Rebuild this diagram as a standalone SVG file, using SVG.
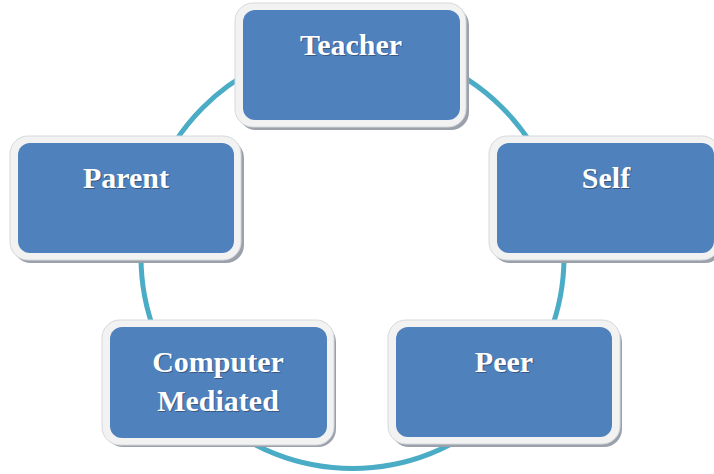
<svg xmlns="http://www.w3.org/2000/svg" width="714" height="474" viewBox="0 0 714 474">
<defs>
<style>
.frame{fill:#f2f2f2;stroke:#d6d8dc;stroke-width:1}
.shadow{fill:#9aa1ab}
.box{fill:#4f81bd}
.lbl{font-family:"Liberation Serif","Times New Roman",serif;font-weight:bold;font-size:30px;fill:#ffffff;text-anchor:middle}
.lblsh{font-family:"Liberation Serif","Times New Roman",serif;font-weight:bold;font-size:30px;fill:#2a3f5c;text-anchor:middle;opacity:0.6}
.ring{fill:none;stroke:#4bacc6;stroke-width:5}
</style>
</defs>
<rect width="714" height="474" fill="#ffffff"/>
<g id="connectors">
<circle class="ring" cx="352.5" cy="257" r="211.5"/>
</g>
<g id="teacher">
<rect class="shadow" x="238" y="7" width="231" height="123" rx="18"/>
<rect class="frame" x="235" y="3" width="231" height="124" rx="18"/>
<rect class="box" x="243" y="10" width="217" height="110" rx="12"/>
<text class="lblsh" x="352" y="56">Teacher</text>
<text class="lbl" x="351" y="55">Teacher</text>
</g>
<g id="self">
<rect class="shadow" x="492" y="140" width="231" height="123" rx="18"/>
<rect class="frame" x="489" y="136" width="231" height="124" rx="18"/>
<rect class="box" x="497" y="143" width="217" height="110" rx="12"/>
<text class="lblsh" x="607" y="189">Self</text>
<text class="lbl" x="606" y="188">Self</text>
</g>
<g id="parent">
<rect class="shadow" x="13" y="140" width="231" height="123" rx="18"/>
<rect class="frame" x="10" y="136" width="231" height="124" rx="18"/>
<rect class="box" x="18" y="143" width="216" height="110" rx="12"/>
<text class="lblsh" x="127" y="189">Parent</text>
<text class="lbl" x="126" y="188">Parent</text>
</g>
<g id="computer-mediated">
<rect class="shadow" x="105" y="324" width="231" height="123" rx="18"/>
<rect class="frame" x="102" y="320" width="232" height="125" rx="18"/>
<rect class="box" x="110" y="327" width="217" height="111" rx="12"/>
<text class="lblsh" x="219" y="373">Computer</text>
<text class="lbl" x="218" y="372">Computer</text>
<text class="lblsh" x="219" y="412">Mediated</text>
<text class="lbl" x="218" y="411">Mediated</text>
</g>
<g id="peer">
<rect class="shadow" x="391" y="324" width="231" height="123" rx="18"/>
<rect class="frame" x="388" y="320" width="232" height="124" rx="18"/>
<rect class="box" x="396" y="327" width="216" height="110" rx="12"/>
<text class="lblsh" x="505" y="373">Peer</text>
<text class="lbl" x="504" y="372">Peer</text>
</g>
</svg>
